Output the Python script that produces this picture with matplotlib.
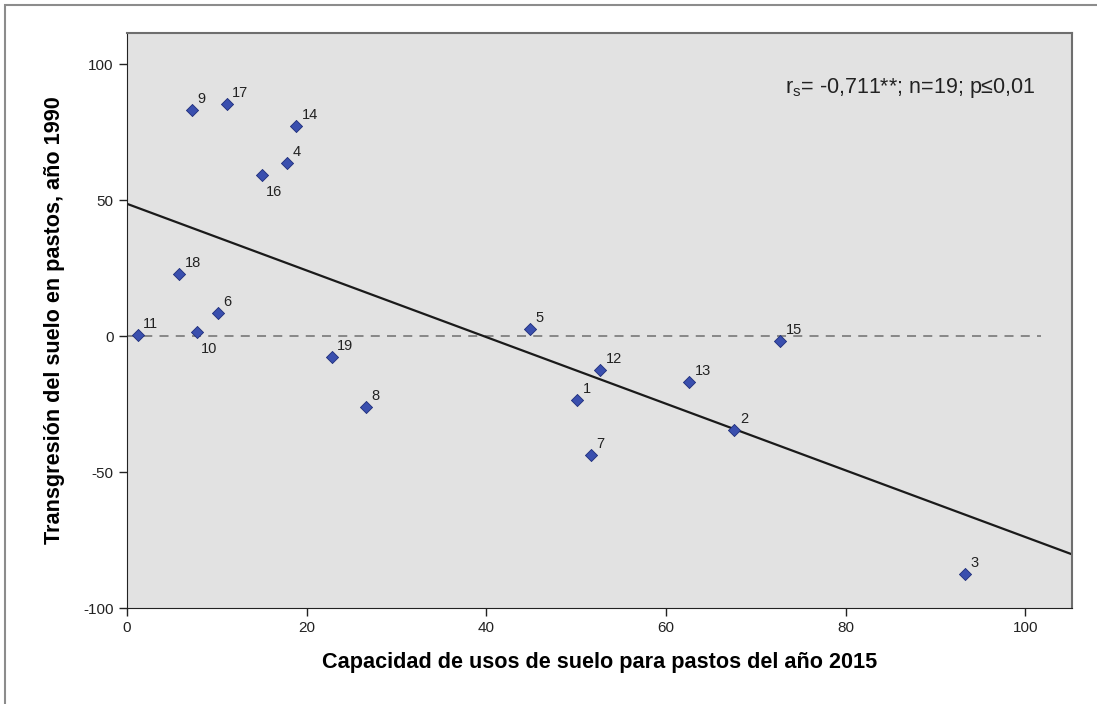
import numpy as np
import matplotlib.pyplot as plt
from matplotlib.patches import Rectangle

# datos
ids = ['9', '17', '14', '4', '16', '18', '6', '11', '10', '19', '8',
       '5', '12', '1', '7', '13', '2', '15', '3']
capacidad = [7.2, 11.1, 18.8, 17.8, 15.0, 5.8, 10.1, 1.2, 7.8, 22.8, 26.6,
             44.9, 52.7, 50.1, 51.6, 62.6, 67.6, 72.7, 93.3]
transgresion = [83.1, 85.3, 77.2, 63.6, 59.2, 22.8, 8.5, 0.4, 1.5, -7.7, -26.1,
                2.6, -12.5, -23.5, -43.8, -16.9, -34.6, -1.8, -87.5]
# etiquetas que van debajo del punto
abajo = ['16', '10']

fit_intercept = 48.6
fit_slope = -1.225

plt.rcParams['font.family'] = ['Liberation Sans', 'DejaVu Sans']
plt.rcParams['axes.unicode_minus'] = False

fig = plt.figure(figsize=(10.97, 7.04), dpi=100)
fig.patches.append(Rectangle((5/1097, -0.1), 1.2, 1 - 5/704 + 0.1,
                             transform=fig.transFigure, fill=False,
                             edgecolor='#8c8c8c', linewidth=1.5))
ax = fig.add_axes([127/1097, 1 - 608/704, (1072-127)/1097, (608-33)/704])
ax.set_facecolor('#e2e2e2')
ax.set_xlim(0, 105.2)
ax.set_ylim(-100, 111.4)

# linea de referencia y recta de ajuste
ax.plot([0, 101.7], [0, 0], color='#808080', linestyle=(0, (5, 4)), linewidth=1.3)
xs = np.array([0, 105.2])
ax.plot(xs, fit_intercept + fit_slope*xs, color='#1a1a1a', linewidth=1.6)

ax.scatter(capacidad, transgresion, marker='D', s=38, color='#3a4fae',
           edgecolors='#1e2d7a', linewidths=0.6, zorder=3)
for lab, x, y in zip(ids, capacidad, transgresion):
    if lab in abajo:
        ax.annotate(lab, (x, y), xytext=(3, -7), textcoords='offset points',
                    fontsize=10.5, va='top', ha='left', color='#222222')
    else:
        ax.annotate(lab, (x, y), xytext=(4, 3), textcoords='offset points',
                    fontsize=10.5, va='bottom', ha='left', color='#222222')

ax.text(0.961, 0.905, r'r$_\mathregular{s}$= -0,711**; n=19; p≤0,01',
        transform=ax.transAxes, ha='right', va='center', fontsize=15.5,
        color='#222222')

ax.set_xticks([0, 20, 40, 60, 80, 100])
ax.set_yticks([-100, -50, 0, 50, 100])
ax.tick_params(direction='out', length=6, width=1, labelsize=11,
               colors='#222222')
ax.set_xlabel('Capacidad de usos de suelo para pastos del año 2015',
              fontsize=15.6, fontweight='bold', labelpad=12)
ax.set_ylabel('Transgresión del suelo en pastos, año 1990',
              fontsize=15.6, fontweight='bold', labelpad=13)
for s in ['left', 'bottom']:
    ax.spines[s].set_color('#222222')
for s in ['top', 'right']:
    ax.spines[s].set_color('#6e6e6e')
    ax.spines[s].set_linewidth(1.5)

fig.savefig('out.png', dpi=100)
